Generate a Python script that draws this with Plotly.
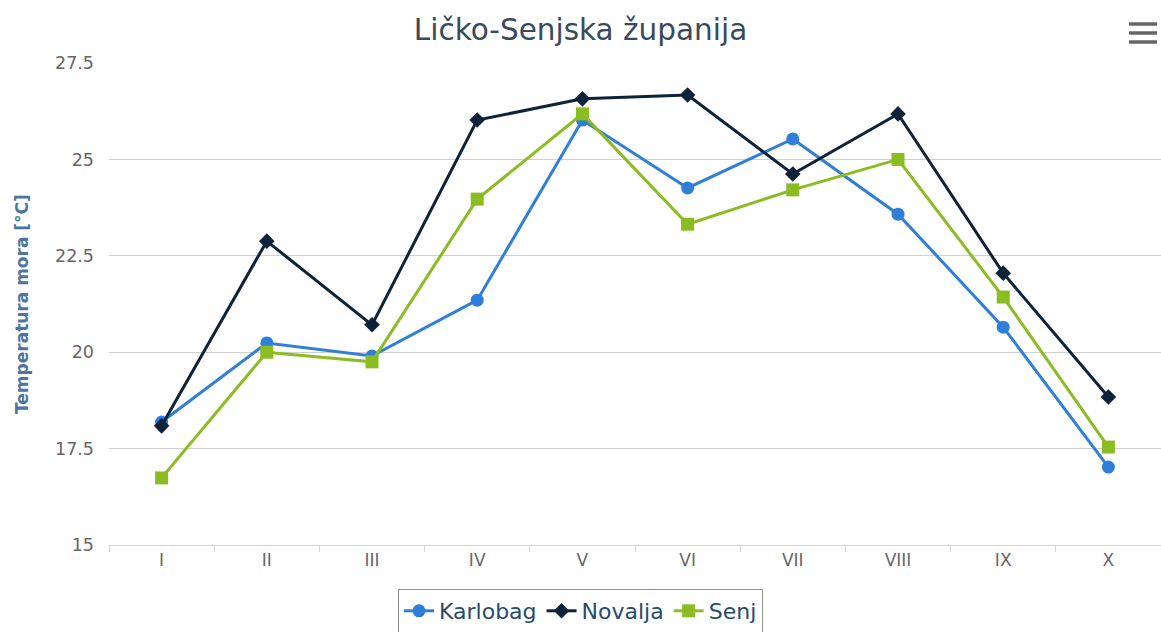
import plotly.graph_objects as go

months = ["I", "II", "III", "IV", "V", "VI", "VII", "VIII", "IX", "X"]
karlobag = [18.19, 20.24, 19.9, 21.35, 26.02, 24.26, 25.53, 23.58, 20.65, 17.02]
novalja = [18.09, 22.88, 20.71, 26.02, 26.57, 26.67, 24.62, 26.18, 22.05, 18.84]
senj = [16.74, 20.0, 19.75, 23.97, 26.18, 23.32, 24.21, 25.0, 21.43, 17.54]

FONT = "DejaVu Sans"

fig = go.Figure()
fig.add_trace(go.Scatter(x=months, y=karlobag, name="Karlobag", mode="lines+markers",
                         line=dict(color="#2f7ed8", width=3),
                         marker=dict(symbol="circle", size=13, color="#2f7ed8")))
fig.add_trace(go.Scatter(x=months, y=novalja, name="Novalja", mode="lines+markers",
                         line=dict(color="#0d233a", width=3),
                         marker=dict(symbol="diamond", size=12, color="#0d233a")))
fig.add_trace(go.Scatter(x=months, y=senj, name="Senj", mode="lines+markers",
                         line=dict(color="#8bbc21", width=3),
                         marker=dict(symbol="square", size=13, color="#8bbc21")))

fig.update_layout(
    width=1161, height=632,
    margin=dict(l=109, r=0, t=63, b=87),
    paper_bgcolor="white", plot_bgcolor="white",
    font=dict(family=FONT, color="#666666"),
    hovermode=False,
    title=dict(text="Ličko-Senjska županija", x=0.5, xref="container", xanchor="center",
               y=1 - 30 / 632, yref="container", yanchor="middle",
               font=dict(family=FONT, size=29.5, color="#3a4a5c")),
    xaxis=dict(type="category", showgrid=False, showline=True, linecolor="#ccd6eb", linewidth=1,
               ticks="outside", tickson="boundaries", ticklen=6, tickcolor="#ccd6eb",
               tickfont=dict(size=17, color="#666666"), range=[-0.5, 9.5], fixedrange=True),
    yaxis=dict(range=[15, 27.5], dtick=2.5, tick0=15, showgrid=True, gridcolor="#d0d0d0", gridwidth=1,
               zeroline=False, showline=False, ticks="", ticklabelstandoff=14,
               tickfont=dict(size=17.5, color="#666666"), fixedrange=True),
    showlegend=True,
    legend=dict(orientation="h", x=0.5, xref="container", xanchor="center",
                y=1 - 589 / 632, yref="container", yanchor="top",
                bordercolor="#909090", borderwidth=1, bgcolor="white",
                font=dict(family=FONT, size=22, color="#274b6d"),
                itemwidth=30, tracegroupgap=0),
    annotations=[dict(text="<b>Temperatura mora [°C]</b>", textangle=-90, x=0, xref="paper",
                      xanchor="center", xshift=-87, y=0.5, yref="paper", yanchor="middle",
                      showarrow=False, font=dict(family=FONT, size=17, color="#4d759e"))],
)

# menu icon (three bars)
for py in (24, 33, 42):
    yp = (545 - py) / 482
    fig.add_shape(type="line", xref="paper", yref="paper",
                  x0=(1129 - 109) / 1052, x1=(1157 - 109) / 1052, y0=yp, y1=yp,
                  line=dict(color="#666666", width=3.5))

fig.write_html("out.html")
